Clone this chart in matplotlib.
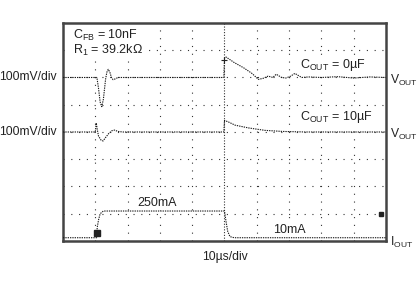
import matplotlib
matplotlib.use("Agg")
import matplotlib.pyplot as plt

plt.rcParams['font.family'] = ['Liberation Sans', 'DejaVu Sans']
plt.rcParams['mathtext.fontset'] = 'custom'
plt.rcParams['mathtext.rm'] = 'Liberation Sans'
plt.rcParams['mathtext.default'] = 'regular'

# scope traces, in divisions (x: 10us/div, y: screen divisions)
vout0_t = [0, 1.05, 1.1, 1.15, 1.2, 1.25, 1.32, 1.36, 1.4, 1.45, 1.5, 1.55, 1.62, 1.7, 1.8,
           4.98, 5.0, 5.05, 5.3, 5.6, 5.85, 6.05, 6.2, 6.35, 6.5, 6.6, 6.77, 6.9, 7.05,
           7.18, 7.39, 7.6, 8.0, 8.5, 9.0, 9.5, 10]
vout0_v = [6, 6, 5.6, 5.1, 4.93, 5.2, 5.95, 6.2, 6.3, 6.2, 6.0, 5.92, 5.95, 6.0, 6.0,
           6.0, 6.7, 6.75, 6.55, 6.35, 6.15, 5.93, 5.97, 6.05, 6.0, 6.12, 6.0, 5.98, 6.05,
           6.15, 6.0, 6.02, 6.0, 6.03, 5.98, 6.02, 6.0]

vout10_t = [0, 1.0, 1.03, 1.06, 1.1, 1.18, 1.24, 1.32, 1.42, 1.52, 1.6, 1.7, 1.85,
            4.98, 5.0, 5.1, 5.33, 5.74, 6.25, 6.8, 7.5, 10]
vout10_v = [4, 4, 4.33, 4.1, 3.85, 3.7, 3.67, 3.8, 3.95, 4.05, 4.07, 4.02, 4.0,
            4.0, 4.42, 4.38, 4.25, 4.15, 4.06, 4.02, 4.0, 4.0]

iout_t = [0, 1.04, 1.06, 1.1, 1.15, 1.25, 4.98, 5.0, 5.05, 5.1, 5.17, 5.3, 10]
iout_v = [0.12, 0.12, 0.5, 0.77, 1.0, 1.1, 1.1, 1.1, 0.7, 0.35, 0.16, 0.12, 0.12]

fig = plt.figure(figsize=(4.18, 2.87), dpi=100)
ax = fig.add_axes([0.1507, 0.1603, 0.7727, 0.7596])
ax.set_xlim(0, 10)
ax.set_ylim(0, 8)
ax.set_xticks([])
ax.set_yticks([])
for s in ax.spines.values():
    s.set_color('#444444')
    s.set_linewidth(1.8)

# graticule
for gx in range(1, 10):
    if gx == 5:
        ax.axvline(gx, color='#333333', lw=0.8, ls=(0, (1, 1.5)), zorder=1)
    else:
        ax.axvline(gx, color='#333333', lw=0.8, ls=(0, (1, 6)), zorder=1)
for gy in range(1, 8):
    ax.axhline(gy, color='#333333', lw=0.8, ls=(0, (1, 6)), zorder=1)

tr = dict(color='#1a1a1a', lw=0.8, ls=(0, (1.2, 0.9)), zorder=3)
ax.plot(vout0_t, vout0_v, **tr)
ax.plot(vout10_t, vout10_v, **tr)
ax.plot(iout_t, iout_v, **tr)

# scope markers
ax.plot([1.06], [0.3], marker='s', ms=4, color='#222222', zorder=4)
ax.plot([9.85], [1.0], marker='s', ms=2.5, color='#222222', zorder=4)
ax.plot([5.0], [6.65], marker='+', ms=5, color='#222222', mew=0.8, zorder=4)

fs = 8.7
fi = 9.0
box = dict(facecolor='white', edgecolor='none', pad=1)
ax.text(0.3, 7.56, 'C$_{FB}$ = 10nF', fontsize=fi, va='center', ha='left', color='#222222', bbox=box, zorder=5)
ax.text(0.3, 7.0, 'R$_{1}$ = 39.2k\u03a9', fontsize=fi, va='center', ha='left', color='#222222', bbox=box, zorder=5)
ax.text(7.34, 6.46, 'C$_{OUT}$ = 0\u00b5F', fontsize=fi, va='center', ha='left', color='#222222', bbox=box, zorder=5)
ax.text(7.34, 4.55, 'C$_{OUT}$ = 10\u00b5F', fontsize=fi, va='center', ha='left', color='#222222', bbox=box, zorder=5)
ax.text(2.29, 1.39, '250mA', fontsize=fi, va='center', ha='left', color='#222222', bbox=box, zorder=5)
ax.text(6.5, 0.4, '10mA', fontsize=fi, va='center', ha='left', color='#222222', bbox=box, zorder=5)

ax.text(-0.19, 6, '100mV/div', fontsize=fs, va='center', ha='right', color='#222222', clip_on=False)
ax.text(-0.19, 4, '100mV/div', fontsize=fs, va='center', ha='right', color='#222222', clip_on=False)
ax.text(10.12, 5.9, 'V$_{OUT}$', fontsize=fs, va='center', ha='left', color='#222222', clip_on=False)
ax.text(10.12, 3.9, 'V$_{OUT}$', fontsize=fs, va='center', ha='left', color='#222222', clip_on=False)
ax.text(10.12, -0.05, 'I$_{OUT}$', fontsize=fs, va='center', ha='left', color='#222222', clip_on=False)
ax.text(5.0, -0.59, '10\u00b5s/div', fontsize=fs, va='center', ha='center', color='#222222', clip_on=False)

fig.savefig('out.png', dpi=100)
